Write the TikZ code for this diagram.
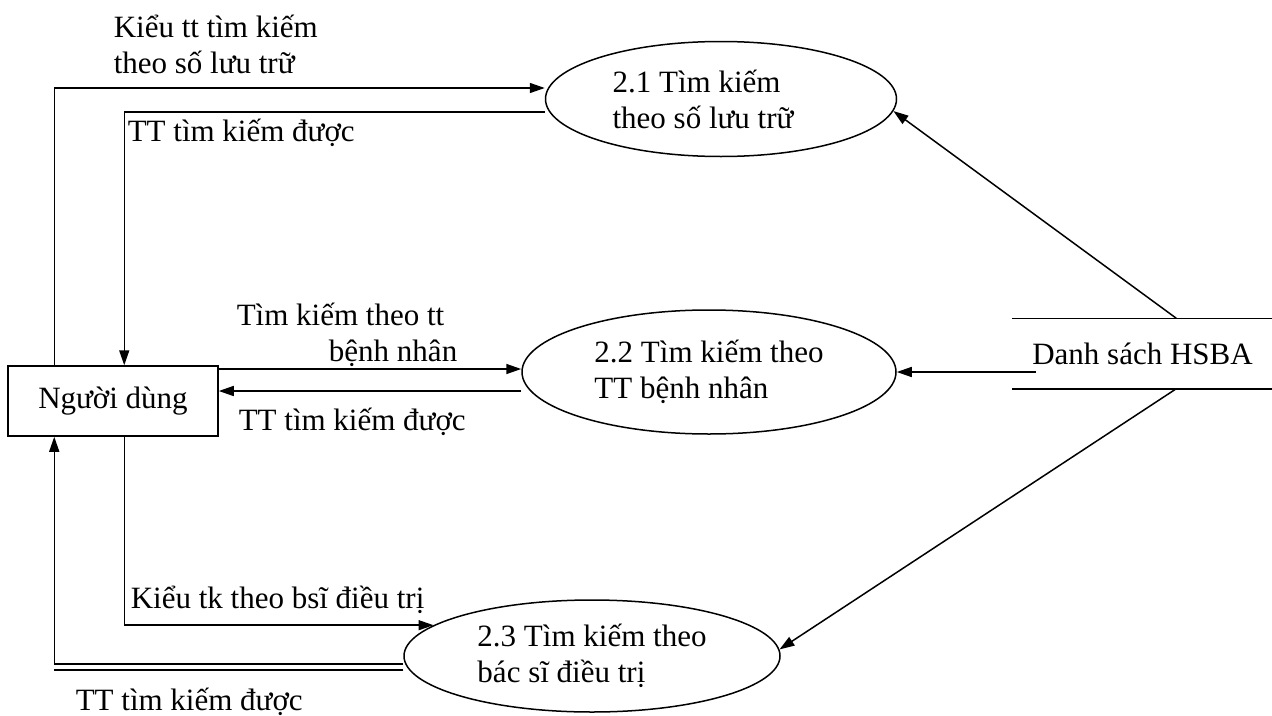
\documentclass[tikz,border=0pt]{standalone}
\usepackage{fontspec}
\setmainfont{Liberation Serif}
\usetikzlibrary{arrows.meta}
\usetikzlibrary{positioning}
\usetikzlibrary{calc}
\usetikzlibrary{shapes.geometric}

\begin{document}
\begin{tikzpicture}[x=1pt,y=-1pt,line width=1.5pt,every node/.style={font=\fontsize{31}{36}\selectfont}]
		\tikzset{proc/.style = {shape=ellipse,draw,inner sep=0,align=left}}
		\tikzset{entity/.style = {shape=rectangle,draw,minimum width=210,minimum height=70}}
		\tikzset{store/.style = {draw=none,minimum width=259,minimum height=69}}
		\tikzset{lbl/.style = {inner sep=0,anchor=west,align=left}}
		\tikzset{edge/.style = {->,> = {Triangle[length=15pt,width=10pt]}}}
		\useasboundingbox (0,0) rectangle (1272,715);
		% vertices
		\node[entity] (nd) at (113,401) {Người dùng};
		\node[proc, minimum width=351, minimum height=115] (p1) at (721,99) {2.1 Tìm kiếm\\theo số lưu trữ\hspace*{36pt}};
		\node[proc, minimum width=374, minimum height=124] (p2) at (709,372) {2.2 Tìm kiếm theo\\TT bệnh nhân};
		\node[proc, minimum width=376, minimum height=112] (p3) at (592,656) {2.3 Tìm kiếm theo\\bác sĩ điều trị};
		\node[store] (ds) at (1142.5,353.5) {Danh sách HSBA};
		\draw (ds.north west) -- (ds.north east);
		\draw (ds.south west) -- (ds.south east);
		
		% labels
		\node[lbl] (l1) at (113,44) {Kiểu tt tìm kiếm\\theo số lưu trữ};
		\node[lbl] (l2) at (127,133) {TT tìm kiếm được};
		\node[lbl, anchor=east, align=right] (l3) at (458,335) {Tìm kiếm theo tt\hspace*{13pt}\\bệnh nhân};
		\node[lbl] (l4) at (238,422) {TT tìm kiếm được};
		\node[lbl] (l5) at (130,600) {Kiểu tk theo bsĩ điều trị};
		\node[lbl] (l6) at (75,702) {TT tìm kiếm được};
		
		%edges
		\draw[edge] ([xshift=47]nd.north west) |- ([yshift=11]p1.west);
		\draw[edge] ([yshift=-13]p1.west) -| ([xshift=117]nd.north west);
		
		\coordinate (m1) at ([yshift=32]nd.east);
		\coordinate (m2) at ([yshift=10]nd.east);
		\draw[edge] (m1) to (m1 -| p2.west);
		\draw[edge] (m2 -| p2.west) to (m2);
		
		\coordinate (d1) at ([xshift=24]ds.west);
		\draw[edge] (d1 |- p2.east) to (p2.east);
		\draw[edge] ([xshift=164]ds.north west) to (p1.-4);
		\draw[edge] ([xshift=164]ds.south west) to (p3.2);
		
		\coordinate (b1) at ([xshift=47]nd.south west);
		\coordinate (b2) at ([yshift=-14]p3.west);
		\draw[edge] ([xshift=117]nd.south west) |- (p3.169);
		\draw[edge] ([yshift=-8]p3.west) -| (b1);
		\draw (b2) -- (b2 -| b1);
		
\end{tikzpicture}
\end{document}
